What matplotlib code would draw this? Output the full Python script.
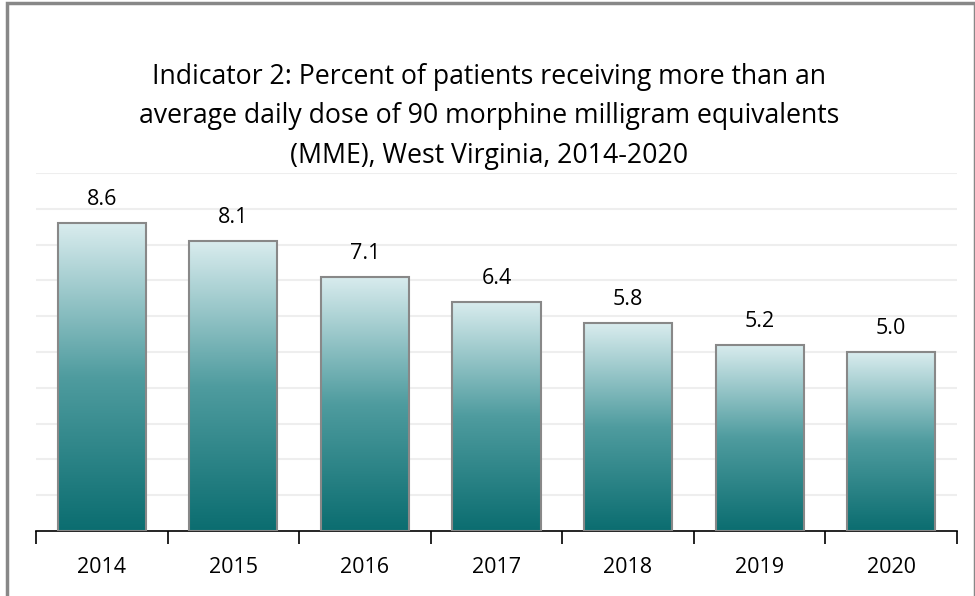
import matplotlib
matplotlib.use("Agg")
import matplotlib.pyplot as plt
import numpy as np
from matplotlib.colors import LinearSegmentedColormap
from matplotlib.patches import Rectangle

years = ["2014", "2015", "2016", "2017", "2018", "2019", "2020"]
percent = [8.6, 8.1, 7.1, 6.4, 5.8, 5.2, 5.0]
title = ("Indicator 2: Percent of patients receiving more than an\n"
         "average daily dose of 90 morphine milligram equivalents\n"
         "(MME), West Virginia, 2014-2020")

plt.rcParams["font.family"] = ["Open Sans", "DejaVu Sans"]

fig = plt.figure(figsize=(9.75, 5.96), dpi=100)
ax = fig.add_axes([0.0369, 0.1091, 0.9446, 0.6006])

# outer chart border
fig.patches.append(Rectangle((7 / 975, -0.05), 968 / 975, 1.05 - 3 / 596,
                             transform=fig.transFigure, fill=False,
                             edgecolor="#888888", lw=2.5))

x = np.arange(len(years))
bars = ax.bar(x, percent, width=0.67, color="none", edgecolor="#888888",
              lw=1.5, zorder=3)

cmap = LinearSegmentedColormap.from_list("teal", ["#0b6d70", "#4f9c9f", "#d9ecee"])
grad = np.linspace(0, 1, 256).reshape(-1, 1)
for b in bars:
    x0, y0 = b.get_x(), b.get_y()
    w, h = b.get_width(), b.get_height()
    im = ax.imshow(grad, cmap=cmap, origin="lower", aspect="auto",
                   extent=[x0, x0 + w, y0, y0 + h], zorder=2)
    im.set_clip_path(b)

for xi, v in zip(x, percent):
    ax.text(xi, v + 0.66, f"{v:.1f}", ha="center", va="center", fontsize=15.5)

ax.set_xlim(-0.5, len(years) - 0.5)
ax.set_ylim(0, 10)
ax.set_yticks(np.arange(1, 11))
ax.yaxis.grid(True, color="#eeeeee", lw=1.5, zorder=0)
ax.tick_params(axis="y", left=False, labelleft=False)
ax.set_xticks(np.arange(-0.5, len(years)), minor=False)
ax.set_xticklabels([])
ax.set_xticks(x, minor=True)
ax.set_xticklabels(years, minor=True, fontsize=15.5)
ax.tick_params(axis="x", which="major", length=9, width=1.2, color="black")
ax.tick_params(axis="x", which="minor", length=0, pad=19)
for s in ["top", "right", "left"]:
    ax.spines[s].set_visible(False)
ax.spines["bottom"].set_linewidth(1.2)

fig.text(0.502, 0.805, title, ha="center", va="center", fontsize=19.2,
         linespacing=1.55)

fig.savefig("out.png", dpi=100)
